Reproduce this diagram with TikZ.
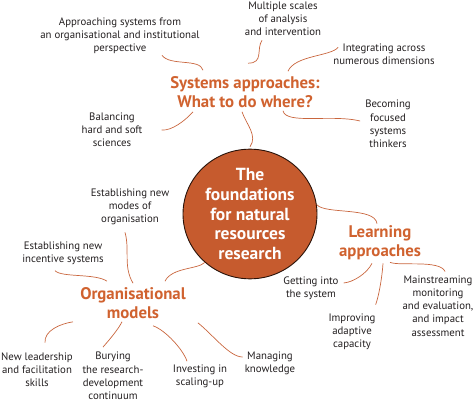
\documentclass[tikz,border=0pt]{standalone}
\usepackage{fontspec}
\setmainfont{PT Sans}
\usetikzlibrary{shapes.geometric}
\definecolor{rust}{HTML}{C65B2E}
\definecolor{ember}{HTML}{D0622F}
\definecolor{wire}{HTML}{C9663E}
\definecolor{ink}{HTML}{231F20}
\tikzset{
  leaf/.style={align=center, inner sep=1pt, text=ink, font=\fontsize{10.8}{13.2}\selectfont},
  theme/.style={align=center, inner sep=1pt, text=ember, font=\fontsize{16.8}{19}\selectfont\bfseries},
  link/.style={draw=wire, line width=0.7pt},
}
\begin{document}
\begin{tikzpicture}[x=1pt, y=-1pt]
\useasboundingbox (0,0) rectangle (474,403);

% centre
\node[ellipse, draw=black!80!rust, line width=0.9pt, fill=rust, minimum width=134pt, minimum height=126pt,
  inner sep=0pt, align=center, text=white, font=\fontsize{17.5}{19.8}\selectfont\bfseries] (core) at (250,214)
  {The\\foundations\\for natural\\resources\\research};

% themes
\node[theme] (sys) at (245,92) {Systems approaches:\\What to do where?};
\node[theme] (learn) at (380,243) {Learning\\approaches};
\node[theme] (org) at (133,303) {Organisational\\models};

% systems leaves
\node[leaf] (appr) at (120,36) {Approaching systems from\\an organisational and institutional\\perspective};
\node[leaf] (multi) at (283,19) {Multiple scales\\of analysis\\and intervention};
\node[leaf] (integ) at (384,54) {Integrating across\\numerous dimensions};
\node[leaf] (becom) at (388,124) {Becoming\\focused\\systems\\thinkers};
\node[leaf] (balan) at (112,130) {Balancing\\hard and soft\\sciences};

% organisational leaves
\node[leaf] (modes) at (130,207) {Establishing new\\modes of\\organisation};
\node[leaf] (incent) at (63,253) {Establishing new\\incentive systems};
\node[leaf] (lead) at (37,370) {New leadership\\and facilitation\\skills};
\node[leaf] (bury) at (113,376) {Burying\\the research-\\development\\continuum};
\node[leaf] (invest) at (200,376) {Investing in\\scaling-up};
\node[leaf] (manag) at (270,363) {Managing\\knowledge};

% learning leaves
\node[leaf] (getin) at (311,288) {Getting into\\the system};
\node[leaf] (improv) at (352,332) {Improving\\adaptive\\capacity};
\node[leaf] (mainst) at (438,306) {Mainstreaming\\monitoring\\and evaluation,\\and impact\\assessment};

% links
\draw[link] ([xshift=42pt]appr.south) .. controls +(8,11) and +(-3,-12) .. ([xshift=-42pt,yshift=5pt]sys.north);
\draw[link] ([xshift=-21pt,yshift=-3pt]multi.south) .. controls +(-6,9) and +(16,0) .. ([xshift=3pt,yshift=12pt]sys.north);
\draw[link] ([xshift=6pt,yshift=-5pt]integ.north west) .. controls +(-7,9) and +(7,-16) .. ([xshift=43pt,yshift=4pt]sys.north);
\draw[link] ([xshift=38pt,yshift=-2pt]sys.south) .. controls +(3,14) and +(-29,-7) .. ([xshift=-4pt,yshift=3pt]becom.west);
\draw[link] ([xshift=-52pt,yshift=-3pt]sys.south) .. controls +(-8,9) and +(10,1) .. ([xshift=18pt]balan.east);
\draw[link] ([xshift=-3pt,yshift=-3pt]sys.south) .. controls +(4,12) and +(8,-11) .. ([yshift=2pt]core.north);

\draw[link] (core.8) .. controls +(8,10) and +(-2,-17) .. ([xshift=-3pt,yshift=1pt]learn.north);
\draw[link] ([xshift=-8pt,yshift=-2pt]learn.south) .. controls +(-5,10) and +(10,-1) .. ([xshift=4pt,yshift=5pt]getin.east);
\draw[link] ([xshift=3pt,yshift=-2pt]learn.south) .. controls +(-1,15) and +(3,-8) .. ([xshift=-1pt,yshift=8pt]improv.north east);
\draw[link] ([xshift=10pt,yshift=-1pt]learn.south) .. controls +(10,4) and +(-5,-12) .. ([xshift=7pt,yshift=3pt]mainst.north);

\draw[link] ([xshift=-5pt,yshift=-6pt]modes.south) .. controls +(5,18) and +(-10,-17) .. ([yshift=3pt]org.north);
\draw[link] ([xshift=-8pt,yshift=-5pt]incent.south) .. controls +(7,7) and +(-12,-8) .. ([xshift=-26pt,yshift=5pt]org.north);
\draw[link] (core.-133) .. controls +(-7,7) and +(7,-14) .. ([xshift=32pt,yshift=5pt]org.north);
\draw[link] ([xshift=-60pt,yshift=-2pt]org.south) .. controls +(-13,2) and +(-1,-12) .. ([xshift=8pt,yshift=9pt]lead.north);
\draw[link] ([xshift=-11pt,yshift=-2pt]org.south) .. controls +(-4,8) and +(6,-7) .. ([xshift=-10pt,yshift=4pt]bury.north);
\draw[link] ([xshift=20pt,yshift=-6pt]org.south) .. controls +(12,4) and +(-4,-12) .. ([xshift=-13pt,yshift=2pt]invest.north);
\draw[link] ([xshift=11pt,yshift=-3pt]org.south east) .. controls +(15,12) and +(-13,0) .. ([xshift=-1pt,yshift=6pt]manag.west);
\end{tikzpicture}
\end{document}
